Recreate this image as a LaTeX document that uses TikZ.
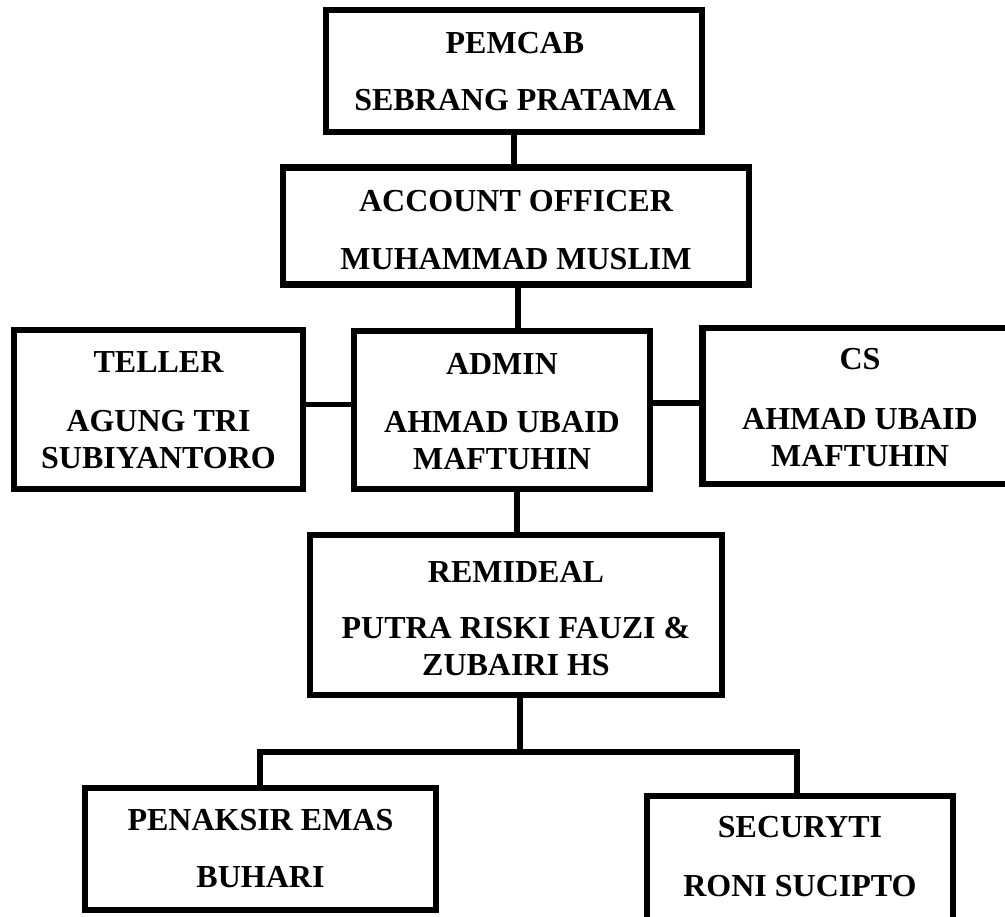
\documentclass[tikz,border=0pt]{standalone}
\usepackage{fontspec}
\setmainfont{Liberation Serif}
\begin{document}
\begin{tikzpicture}[x=1pt,y=-1pt,
  box/.style={draw=black,line width=6.5pt,rectangle,inner sep=0pt,fill=white},
  txt/.style={align=center,inner sep=0pt,font=\fontsize{32}{37}\selectfont\bfseries},
  conn/.style={line width=5.5pt},
  bar/.style={line width=6pt}]
\useasboundingbox[fill=white] (0,0) rectangle (1005,917);
% boxes
\node[box,minimum width=376pt,minimum height=122pt] (pem) at (514,71) {};
\node[box,minimum width=466pt,minimum height=117pt] (ao) at (516,226) {};
\node[box,minimum width=289pt,minimum height=159pt] (tel) at (158.5,409.5) {};
\node[box,minimum width=296pt,minimum height=158pt] (adm) at (502,410) {};
\node[box,minimum width=315pt,minimum height=156pt] (cs) at (860,406) {};
\node[box,minimum width=412pt,minimum height=160pt] (rem) at (516,615) {};
\node[box,minimum width=351pt,minimum height=122pt] (pen) at (260.5,849) {};
\node[box,minimum width=306pt,minimum height=142pt] (sec) at (800,867) {};
% texts
\node[txt] (pemT) at (515,71.5) {PEMCAB\\[20pt]SEBRANG PRATAMA};
\node[txt] (aoT) at (516,230.5) {ACCOUNT OFFICER\\[21pt]MUHAMMAD MUSLIM};
\node[txt] (telT) at (158.5,410) {TELLER\\[22pt]AGUNG TRI\\SUBIYANTORO};
\node[txt] (admT) at (502,412) {ADMIN\\[21pt]AHMAD UBAID\\MAFTUHIN};
\node[txt] (csT) at (860,408) {CS\\[23pt]AHMAD UBAID\\MAFTUHIN};
\node[txt] (remT) at (516,619) {REMIDEAL\\[19pt]PUTRA RISKI FAUZI \&\\ZUBAIRI HS};
\node[txt] (penT) at (260.5,849) {PENAKSIR EMAS\\[20pt]BUHARI};
\node[txt] (secT) at (800,856.5) {SECURYTI\\[22pt]RONI SUCIPTO};
% connectors
\draw[conn] (pem.south) -- (pem.south |- ao.north);
\draw[conn] ([xshift=2pt]ao.south) -- ([xshift=2pt]ao.south |- adm.north);
\draw[conn] ([yshift=5pt]tel.east) -- ([yshift=5pt]tel.east -| adm.west);
\draw[conn] ([yshift=7pt]adm.east) -- ([yshift=7pt]adm.east -| cs.west);
\draw[conn] ([xshift=1pt]rem.north) -- ([xshift=1pt]rem.north |- adm.south);
\coordinate (bl) at (260,752);
\coordinate (br) at (797,752);
\draw[conn] ([xshift=4pt]rem.south) -- ([xshift=4pt]rem.south |- bl);
\draw[bar,line cap=rect] (bl) -- (br);
\draw[conn] (bl) -- (bl |- pen.north);
\draw[conn] (br) -- (br |- sec.north);
\end{tikzpicture}
\end{document}
